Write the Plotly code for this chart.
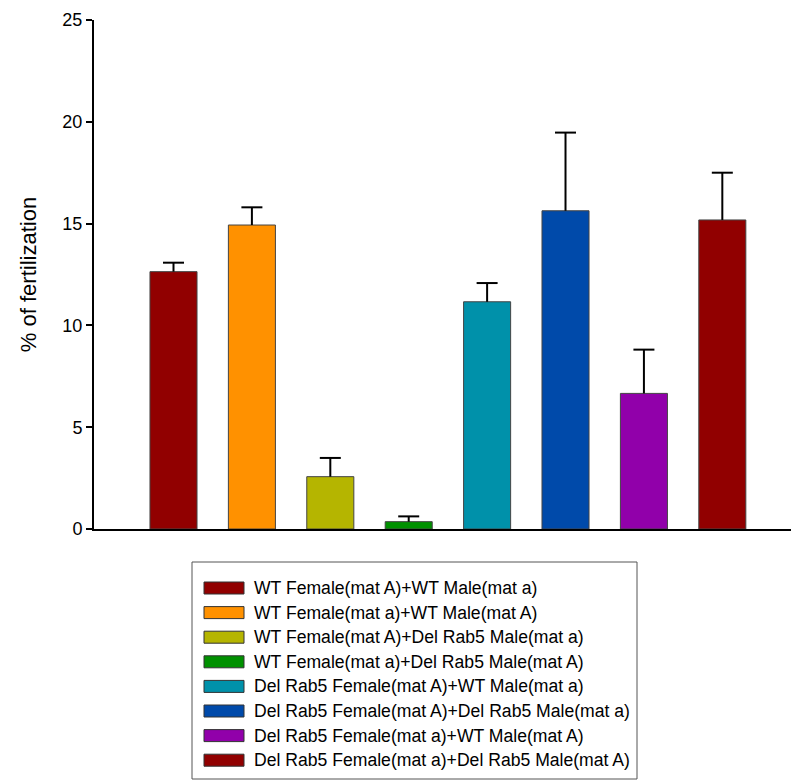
import plotly.graph_objects as go

# Crossing groups, mean fertilization (%) and upper error (SE)
groups = [
    "WT Female(mat A)+WT Male(mat a)",
    "WT Female(mat a)+WT Male(mat A)",
    "WT Female(mat A)+Del Rab5 Male(mat a)",
    "WT Female(mat a)+Del Rab5 Male(mat A)",
    "Del Rab5 Female(mat A)+WT Male(mat a)",
    "Del Rab5 Female(mat A)+Del Rab5 Male(mat a)",
    "Del Rab5 Female(mat a)+WT Male(mat A)",
    "Del Rab5 Female(mat a)+Del Rab5 Male(mat A)",
]
fertilization = [12.64, 14.93, 2.57, 0.36, 11.16, 15.63, 6.66, 15.18]
error_up = [0.44, 0.87, 0.92, 0.26, 0.92, 3.84, 2.15, 2.32]
colors = ["#910000", "#FF9100", "#B5B500", "#009100",
          "#0091AA", "#004AAA", "#9100AA", "#910000"]
y_ticks = [0, 5, 10, 15, 20, 25]

W, H = 791, 780
ML, MR, MT, MB = 94, 0, 20, 251
PW, PH = W - ML - MR, H - MT - MB


def px_x(p):
    return (p - ML) / PW


def px_y(p):
    return (H - MB - p) / PH


xs = list(range(len(groups)))
tops = [v + e for v, e in zip(fertilization, error_up)]

fig = go.Figure()
fig.add_trace(go.Bar(
    x=xs,
    y=fertilization,
    width=0.6,
    marker=dict(color=colors, line=dict(color="#444444", width=1)),
    showlegend=False,
    hovertext=groups,
))
# Upper-only error whiskers: stem from the bar top, cap drawn as a marker
fig.add_trace(go.Scatter(
    x=xs, y=tops, mode="markers",
    marker=dict(symbol="line-ew", size=15, line=dict(color="black", width=2)),
    error_y=dict(type="data", symmetric=False, array=[0] * len(groups),
                 arrayminus=error_up, color="black", thickness=2, width=0),
    showlegend=False, hoverinfo="skip",
))

# Legend box drawn in paper space
shapes = [dict(type="rect", xref="paper", yref="paper",
               x0=px_x(192), x1=px_x(637), y0=px_y(779), y1=px_y(562),
               line=dict(color="#555555", width=1), fillcolor="white")]
annotations = []
for i, (name, col) in enumerate(zip(groups, colors)):
    cy = 588 + i * 24.6
    shapes.append(dict(type="rect", xref="paper", yref="paper",
                       x0=px_x(204), x1=px_x(244), y0=px_y(cy + 6), y1=px_y(cy - 6),
                       line=dict(color="#333333", width=1), fillcolor=col))
    annotations.append(dict(xref="paper", yref="paper", x=px_x(252), y=px_y(cy),
                            text=name, showarrow=False, xanchor="left", yanchor="middle",
                            font=dict(family="Liberation Sans, Arial", size=17.6, color="black")))

fig.update_layout(
    width=W, height=H,
    margin=dict(l=ML, r=MR, t=MT, b=MB),
    paper_bgcolor="white", plot_bgcolor="white",
    font=dict(family="Liberation Sans, Arial", color="black", size=18),
    shapes=shapes,
    annotations=annotations,
    xaxis=dict(range=[-1.014, 7.876], showticklabels=False, ticks="",
               showgrid=False, zeroline=False, showline=True,
               linecolor="black", linewidth=2),
    yaxis=dict(range=[0, 25], tickvals=y_ticks, ticks="outside", ticklen=6,
               tickwidth=1.5, tickcolor="black", showgrid=False, zeroline=False,
               showline=True, linecolor="black", linewidth=2,
               title=dict(text="% of fertilization", font=dict(size=22), standoff=20),
               tickfont=dict(size=18)),
)

fig.write_html("out.html")
